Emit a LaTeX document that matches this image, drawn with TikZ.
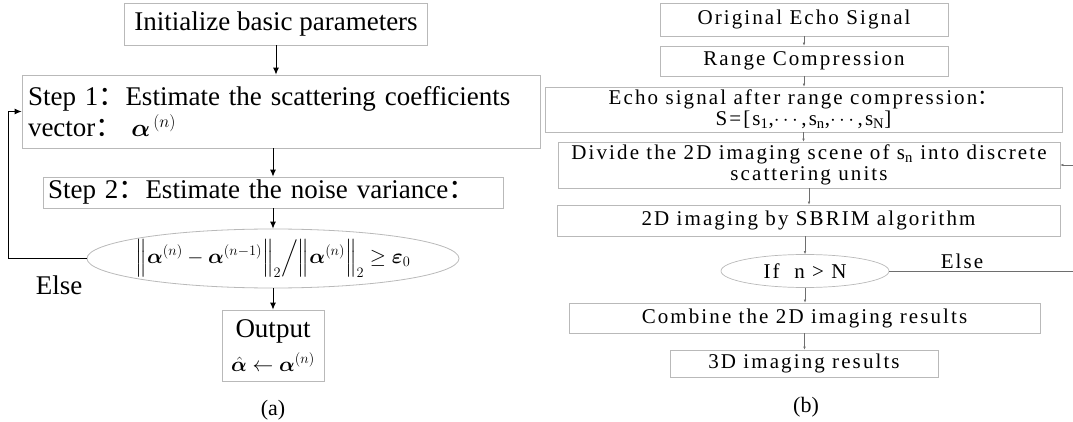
\documentclass[tikz,border=0pt]{standalone}
\usepackage{amsmath}
\usepackage{bm}
\usepackage{fontspec}
\setmainfont{Liberation Serif}
\newfontfamily\cjk{Noto Sans CJK SC}
\newfontfamily\spaced[LetterSpace=10]{Liberation Serif}
\usetikzlibrary{shapes.geometric,arrows.meta}
\definecolor{boxgray}{RGB}{185,185,185}
\definecolor{lgray}{RGB}{110,110,110}
\newcommand{\fcolon}{{\cjk ：}}

\begin{document}
\begin{tikzpicture}[x=1pt,y=-1pt,
  lbox/.style={draw=boxgray, line width=0.8pt, inner sep=0pt, font=\fontsize{27}{31}\selectfont},
  rbox/.style={draw=boxgray, line width=0.7pt, inner sep=0pt, align=center, font=\spaced\fontsize{21}{21}\selectfont},
  larr/.style={-{Latex[length=7pt,width=6pt]}, line width=0.9pt},
  rarr/.style={-{Latex[length=3pt,width=2.5pt]}, lgray, line width=0.5pt}]
  \useasboundingbox (0,0) rectangle (1073,422);
  %% (a) iterative estimation
  \node[lbox, minimum width=303pt, minimum height=42pt] (init) at (276,24) {Initialize basic parameters};
  \node[lbox, minimum width=518pt, minimum height=73pt, text width=506pt, align=left] (step1) at (281,111.5)
    {Step 1\fcolon Estimate the scattering coefficients\\vector\fcolon\ $\bm{\alpha}^{\,(n)}$};
  \node[lbox, minimum width=460pt, minimum height=31pt, text width=450pt, align=left] (step2) at (273,192.5)
    {Step 2\fcolon Estimate the noise variance\fcolon};
  \node[lbox, ellipse, inner xsep=-30pt, inner ysep=-4pt, minimum width=372pt, minimum height=59pt, font=\fontsize{22}{26}\selectfont] (crit) at (273,258.5)
    {$\Bigl\|\bm{\alpha}^{(n)}-\bm{\alpha}^{(n-1)}\Bigr\|_2\Big/\Bigl\|\bm{\alpha}^{(n)}\Bigr\|_2\geq\bm{\varepsilon}_0$};
  \node[lbox, minimum width=102pt, minimum height=71pt, align=center] (out) at (273,345.5)
    {Output\\[3pt]{\fontsize{20}{20}\selectfont$\hat{\bm{\alpha}}\leftarrow\bm{\alpha}^{(n)}$}};
  \node[font=\fontsize{27}{27}\selectfont] (elsea) at (59,285) {Else};
  \node[font=\fontsize{22}{22}\selectfont] (capa) at (273,410) {(a)};
  \draw[larr] (init.south) -- (init.south |- step1.north);
  \draw[larr] (step1.south -| step2) -- (step2.north);
  \draw[larr] (step2.south) -- (crit.north);
  \draw[larr] (crit.south) -- (out.north);
  %% back to step 1
  \draw[larr] (crit.west) -- ++(-78,0) |- (step1.west);

  %% (b) 3D imaging flow
  \node[rbox, minimum width=288pt, minimum height=33pt] (orig) at (804,19.5) {Original Echo Signal};
  \node[rbox, minimum width=288pt, minimum height=30pt] (range) at (804,61) {Range Compression};
  \node[rbox, minimum width=517pt, minimum height=45pt] (echo) at (803.5,109.5)
    {Echo signal after range compression\fcolon\\S=[s\textsubscript{1},$\cdots$,s\textsubscript{n},$\cdots$,s\textsubscript{N}]};
  \node[rbox, minimum width=502pt, minimum height=46pt] (divide) at (809,165)
    {Divide the 2D imaging scene of s\textsubscript{n} into discrete\\scattering units};
  \node[rbox, minimum width=503pt, minimum height=31pt] (sbrim) at (808.5,220.5) {2D imaging by SBRIM algorithm};
  \node[rbox, ellipse, minimum width=168pt, minimum height=33pt] (ifn) at (805,271) {If~~n > N};
  \node[rbox, minimum width=471pt, minimum height=30pt] (comb) at (804.5,318) {Combine the 2D imaging results};
  \node[rbox, minimum width=268pt, minimum height=27pt] (res) at (804,363.5) {3D imaging results};
  \node[font=\spaced\fontsize{21}{21}\selectfont, anchor=south, inner sep=1pt] (elseb) at (962,270) {Else};
  \node[font=\fontsize{22}{22}\selectfont] (capb) at (806,407) {(b)};
  \draw[rarr] (orig.south) -- (orig.south |- range.north);
  \draw[rarr] (range.south) -- (range.south |- echo.north);
  \draw[rarr] (echo.south) -- (echo.south |- divide.north);
  \draw[rarr] (divide.south) -- (divide.south |- sbrim.north);
  \draw[rarr] (sbrim.south -| ifn) -- (ifn.north);
  \draw[rarr] (ifn.south) -- (ifn.south |- comb.north);
  \draw[rarr] (comb.south) -- (comb.south |- res.north);
  %% loop for next s_n
  \draw[rarr] (ifn.east) -- ++(200,0) |- (divide.east);
\end{tikzpicture}
\end{document}
